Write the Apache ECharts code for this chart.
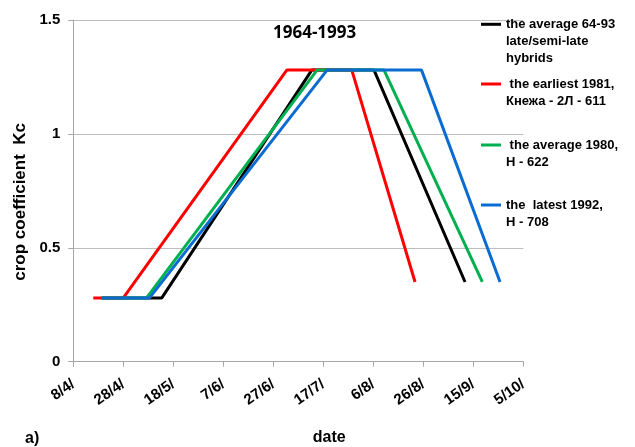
<!DOCTYPE html>
<html>
<head>
<meta charset="utf-8">
<script src="https://cdn.jsdelivr.net/npm/echarts@6/dist/echarts.min.js"></script>
<style>html,body{margin:0;padding:0;background:#fff}#c{width:635px;height:447px}</style>
</head>
<body>
<div id="c"></div>
<script>
// x = days since 8 April
const tickLabels = ['8/4/', '28/4/', '18/5/', '7/6/', '27/6/', '17/7/', '6/8/', '26/8/', '15/9/', '5/10/'];
const seriesNames = [
  'the average 64-93\nlate/semi-late\nhybrids',
  ' the earliest 1981,\nКнежа - 2Л - 611',
  ' the average 1980,\nН - 622',
  'the  latest 1992,\nН - 708'
];
const blackDays = [11.4, 35.4, 95.4, 120.3, 156.7];
const blackKc   = [0.28, 0.28, 1.28, 1.28, 0.35];
const redDays   = [8, 20, 85.4, 111.4, 136.7];
const redKc     = [0.28, 0.28, 1.28, 1.28, 0.35];
const greenDays = [11.4, 29.3, 97.5, 124.3, 163.6];
const greenKc   = [0.28, 0.28, 1.28, 1.28, 0.35];
const blueDays  = [11.4, 30.5, 101.5, 139.3, 170.7];
const blueKc    = [0.28, 0.28, 1.28, 1.28, 0.35];

const colors = ['#000000', '#ff0000', '#00b050', '#0a6cd0'];
const days = [blackDays, redDays, greenDays, blueDays];
const kcs = [blackKc, redKc, greenKc, blueKc];

const chart = echarts.init(document.getElementById('c'));
const font = 'Liberation Sans, Arial, sans-serif';

// first-line centres of the legend entries
const legendLineCentres = [24.3, 84, 145, 205];
const lineH = 17;

const series = seriesNames.map((n, i) => ({
  name: n,
  type: 'line',
  data: days[i].map((d, j) => [d, kcs[i][j]]),
  showSymbol: false,
  symbol: 'none',
  lineStyle: { color: colors[i], width: 3 },
  itemStyle: { color: colors[i] },
  z: 2 + i
}));

const legends = seriesNames.map((n, i) => ({
  data: [{ name: n, icon: 'rect' }],
  left: 481,
  top: legendLineCentres[i] - lineH / 2,
  padding: 0,
  itemWidth: 20,
  itemHeight: 3,
  selectedMode: false,
  formatter: name => name.split('\n')[0],
  textStyle: { fontFamily: font, fontWeight: 'bold', fontSize: 13, color: '#000', lineHeight: lineH }
}));

const contLines = seriesNames.map((n, i) => ({
  type: 'text',
  left: 506,
  top: legendLineCentres[i] + lineH / 2,
  style: {
    text: n.split('\n').slice(1).join('\n'),
    font: 'bold 13px ' + font,
    lineHeight: lineH,
    fill: '#000'
  }
}));

chart.setOption({
  animation: false,
  backgroundColor: '#fff',
  title: {
    text: '1964-1993', left: 273, top: 25, padding: 0,
    textStyle: { fontFamily: 'Open Sans, sans-serif', fontWeight: 'bold', fontSize: 17, color: '#000' }
  },
  legend: legends,
  grid: { left: 73.3, right: 111.7, top: 20, bottom: 85.3, containLabel: false, outerBoundsMode: 'none' },
  xAxis: {
    type: 'value', min: 0, max: 180, interval: 20,
    name: 'date', nameLocation: 'middle', nameGap: 68,
    nameTextStyle: { fontFamily: font, fontWeight: 'bold', fontSize: 16, color: '#000', padding: [0, 0, 0, 62] },
    axisLine: { show: true, lineStyle: { color: '#a6a6a6', width: 1 } },
    axisTick: { show: true, inside: false, length: 5, lineStyle: { color: '#a6a6a6' } },
    splitLine: { show: false },
    axisLabel: {
      rotate: 35, margin: 21,
      fontFamily: font, fontWeight: 'bold', fontSize: 15, color: '#000',
      formatter: v => tickLabels[Math.round(v / 20)] || ''
    }
  },
  yAxis: {
    type: 'value', min: 0, max: 1.5, interval: 0.5,
    name: 'crop coefficient  Kc', nameLocation: 'middle', nameGap: 44, nameRotate: 90,
    nameTextStyle: { fontFamily: font, fontWeight: 'bold', fontSize: 17, color: '#000', padding: [0, 22, 0, 0] },
    axisLine: { show: true, lineStyle: { color: '#a6a6a6', width: 1 } },
    axisTick: { show: true, inside: false, length: 5, lineStyle: { color: '#a6a6a6' } },
    splitLine: { show: true, lineStyle: { color: '#bdbdbd', width: 1 } },
    axisLabel: { margin: 13, fontFamily: font, fontWeight: 'bold', fontSize: 15, color: '#000' }
  },
  graphic: contLines.concat([
    { type: 'text', left: 25, top: 431, style: { text: 'a)', font: 'bold 16px ' + font, fill: '#000' } }
  ]),
  series: series
});
</script>
</body>
</html>
